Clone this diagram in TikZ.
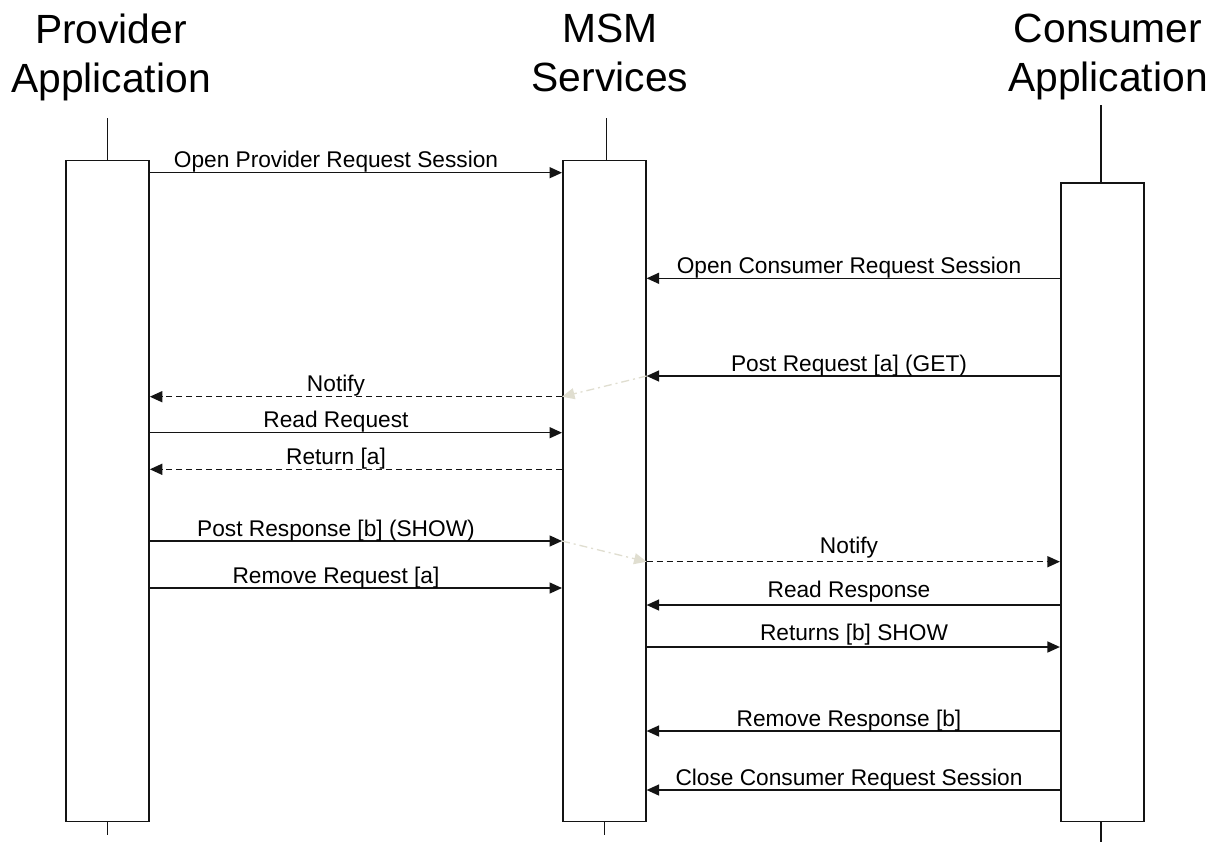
\documentclass[tikz,border=0pt]{standalone}
\usepackage{fontspec}
\setmainfont{Liberation Sans}
\usetikzlibrary{arrows.meta}
\definecolor{ink}{RGB}{20,20,20}
\definecolor{ghostgray}{RGB}{224,222,208}
\begin{document}
\begin{tikzpicture}[x=1pt,y=-1pt,
  frame/.style={draw=ink, line width=1.6pt},
  actbox/.style={frame, fill=white, rectangle, minimum width=83pt, inner sep=0pt, anchor=north},
  head/.style={font=\fontsize{40.8}{48.5}\selectfont, align=center, anchor=north, inner sep=0pt},
  msg/.style={draw=ink, line width=1.5pt, -{Triangle[length=12.5pt,width=11pt]}},
  reply/.style={msg, dash pattern=on 6pt off 4pt},
  ghost/.style={draw=ghostgray, line width=1.3pt, dash pattern=on 8pt off 4pt on 2pt off 4pt,
                -{Triangle[length=12.5pt,width=11pt]}},
  lbl/.style={font=\fontsize{22.7}{27}\selectfont, anchor=base, inner sep=0pt},
]
\useasboundingbox (0,0) rectangle (1220,841);
\fill[white] (0,0) rectangle (1220,841);

% participant headings
\node[head] (hP) at (111,14) {Provider\\Application};
\node[head] (hM) at (610,14) {MSM\\Services};
\node[head] (hC) at (1108,14) {Consumer\\Application};

% activation bars
\node[actbox, minimum height=661pt] (P) at (107.5,159.5) {};
\node[actbox, minimum height=661pt] (M) at (604.3,159.5) {};
\node[actbox, minimum height=638.7pt] (C) at (1102.2,182) {};

% lifeline stubs
\draw[frame] (P.north) -- ++(0,-41.5);
\draw[frame] ([xshift=2.2pt]M.north) -- ++(0,-41.5);
\draw[frame] ([xshift=-1.2pt]C.north) -- ++(0,-77);
\draw[frame] (P.south) -- ++(0,12.5);
\draw[frame] (M.south) -- ++(0,12.5);
\draw[frame] ([xshift=-1.2pt]C.south) -- ++(0,21);

% message rows
\coordinate (r1) at (0,172.7);
\coordinate (r2) at (0,278.3);
\coordinate (r3) at (0,376);
\coordinate (r4) at (0,396.7);
\coordinate (r5) at (0,432.7);
\coordinate (r6) at (0,469.3);
\coordinate (r7) at (0,541);
\coordinate (r8) at (0,561.7);
\coordinate (r9) at (0,588);
\coordinate (r10) at (0,605);
\coordinate (r11) at (0,647);
\coordinate (r12) at (0,731);
\coordinate (r13) at (0,790);

% internal hand-offs inside MSM Services
\draw[ghost] (M.east |- r3) -- (M.west |- r4);
\draw[ghost] (M.west |- r7) -- (M.east |- r8);

% messages
\draw[msg]   (P.east |- r1)  -- (M.west |- r1);
\draw[msg]   (C.west |- r2)  -- (M.east |- r2);
\draw[msg]   (C.west |- r3)  -- (M.east |- r3);
\draw[reply] (M.west |- r4)  -- (P.east |- r4);
\draw[msg]   (P.east |- r5)  -- (M.west |- r5);
\draw[reply] (M.west |- r6)  -- (P.east |- r6);
\draw[msg]   (P.east |- r7)  -- (M.west |- r7);
\draw[reply] (M.east |- r8)  -- (C.west |- r8);
\draw[msg]   (P.east |- r9)  -- (M.west |- r9);
\draw[msg]   (C.west |- r10) -- (M.east |- r10);
\draw[msg]   (M.east |- r11) -- (C.west |- r11);
\draw[msg]   (C.west |- r12) -- (M.east |- r12);
\draw[msg]   (C.west |- r13) -- (M.east |- r13);

% message labels
\node[lbl] (t1)  at (336,167.7) {Open Provider Request Session};
\node[lbl] (t2)  at (849,273.3) {Open Consumer Request Session};
\node[lbl] (t3)  at (849,371)   {Post Request [a] (GET)};
\node[lbl] (t4)  at (336,391.7) {Notify};
\node[lbl] (t5)  at (336,427.7) {Read Request};
\node[lbl] (t6)  at (336,464.3) {Return [a]};
\node[lbl] (t7)  at (336,536)   {Post Response [b] (SHOW)};
\node[lbl] (t8)  at (849,553.5) {Notify};
\node[lbl] (t9)  at (336,583)   {Remove Request [a]};
\node[lbl] (t10) at (849,597)   {Read Response};
\node[lbl] (t11) at (854,640.5) {Returns [b] SHOW};
\node[lbl] (t12) at (849,726)   {Remove Response [b]};
\node[lbl] (t13) at (849,785)   {Close Consumer Request Session};
\end{tikzpicture}
\end{document}
